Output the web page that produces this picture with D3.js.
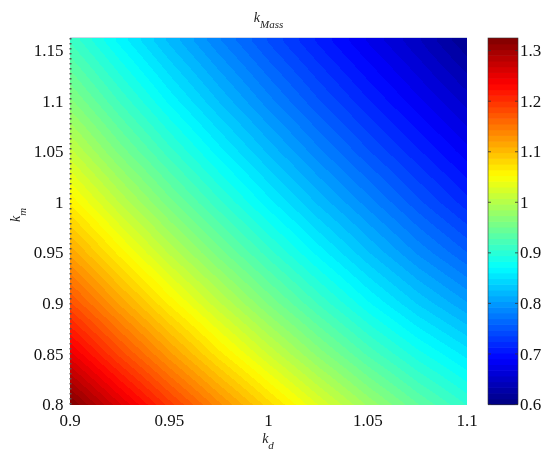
<!DOCTYPE html>
<html><head><meta charset="utf-8">
<script src="https://cdn.jsdelivr.net/npm/d3@7"></script>
<style>
html,body{margin:0;padding:0;background:#fff;}
#wrap{position:relative;width:550px;height:458px;overflow:hidden;}
canvas,svg{position:absolute;left:0;top:0;}
</style></head><body>
<div id="wrap"><canvas id="cv" width="550" height="458"></canvas><svg id="sv" width="550" height="458"></svg></div>
<script>
// k_d grid (x), k_m grid (y)
const kdValues = [0.9, 0.925, 0.95, 0.975, 1.0, 1.025, 1.05, 1.075, 1.1];
const kmValues = [0.8, 0.85, 0.9, 0.95, 1.0, 1.05, 1.1, 1.15, 1.16];
// k_Mass, one row per k_m value
const kMassRow080 = [1.326, 1.259, 1.195, 1.136, 1.081, 1.030, 0.983, 0.941, 0.905];
const kMassRow085 = [1.250, 1.185, 1.125, 1.069, 1.018, 0.970, 0.926, 0.888, 0.856];
const kMassRow090 = [1.180, 1.119, 1.062, 1.010, 0.961, 0.916, 0.874, 0.837, 0.805];
const kMassRow095 = [1.118, 1.060, 1.006, 0.957, 0.911, 0.868, 0.828, 0.791, 0.759];
const kMassRow100 = [1.062, 1.007, 0.956, 0.909, 0.865, 0.824, 0.787, 0.751, 0.718];
const kMassRow105 = [1.012, 0.959, 0.911, 0.866, 0.824, 0.785, 0.749, 0.716, 0.684];
const kMassRow110 = [0.966, 0.916, 0.869, 0.826, 0.786, 0.749, 0.715, 0.683, 0.652];
const kMassRow115 = [0.924, 0.876, 0.831, 0.790, 0.752, 0.717, 0.684, 0.653, 0.619];
const kMassRow116 = [0.916, 0.868, 0.824, 0.783, 0.746, 0.711, 0.678, 0.648, 0.612];
const kMassGrid = [kMassRow080, kMassRow085, kMassRow090, kMassRow095, kMassRow100,
                   kMassRow105, kMassRow110, kMassRow115, kMassRow116];

const xTicks = [0.9, 0.95, 1, 1.05, 1.1];
const yTicks = [0.8, 0.85, 0.9, 0.95, 1, 1.05, 1.1, 1.15];
const cTicks = [0.6, 0.7, 0.8, 0.9, 1, 1.1, 1.2, 1.3];
const xDomain = [0.9, 1.1];
const yDomain = [0.8, 1.1625];
const cDomain = [0.6, 1.325];
const nLevels = 64;
const jetPos = [0, 0.125, 0.375, 0.625, 0.875, 1];
const jetColors = ["#00007f", "#0000ff", "#00ffff", "#ffff00", "#ff0000", "#7f0000"];

const plot = {left: 70, right: 467, top: 38, bottom: 404.5};
const cbar = {left: 488, right: 518};

const x = d3.scaleLinear().domain(xDomain).range([plot.left, plot.right]);
const y = d3.scaleLinear().domain(yDomain).range([plot.bottom, plot.top]);
const cy = d3.scaleLinear().domain(cDomain).range([plot.bottom, plot.top]);
const jet = d3.scaleLinear()
  .domain(jetPos.map(t => cDomain[0] + t * (cDomain[1] - cDomain[0])))
  .range(jetColors).interpolate(d3.interpolateRgb).clamp(true);
const levelOf = v => Math.max(0, Math.min(nLevels - 1,
  Math.floor((v - cDomain[0]) / (cDomain[1] - cDomain[0]) * nLevels)));
const levelColor = l => jet(cDomain[0] + (l + 0.5) / nLevels * (cDomain[1] - cDomain[0]));
const levelRGB = d3.range(nLevels).map(l => d3.rgb(levelColor(l)));

function locate(arr, v) {
  let i = d3.bisectRight(arr, v) - 1;
  i = Math.max(0, Math.min(arr.length - 2, i));
  let t = (v - arr[i]) / (arr[i + 1] - arr[i]);
  t = Math.max(0, Math.min(1, t));
  return [i, t];
}
function field(kd, km) {
  const [i, tx] = locate(kdValues, kd);
  const [j, ty] = locate(kmValues, km);
  const a = kMassGrid[j][i], b = kMassGrid[j][i + 1];
  const c = kMassGrid[j + 1][i], d = kMassGrid[j + 1][i + 1];
  return (a * (1 - tx) + b * tx) * (1 - ty) + (c * (1 - tx) + d * tx) * ty;
}

// draw filled field on canvas
const cv = document.getElementById("cv");
const ctx = cv.getContext("2d");
const x0 = Math.round(plot.left), x1 = Math.round(plot.right);
const y0 = Math.round(plot.top), y1 = Math.round(plot.bottom);
const W = x1 - x0, H = y1 - y0;
const img = ctx.createImageData(W, H);
for (let j = 0; j < H; j++) {
  const km = y.invert(y0 + j + 0.5);
  for (let i = 0; i < W; i++) {
    const kd = x.invert(x0 + i + 0.5);
    const c = levelRGB[levelOf(field(kd, km))];
    const k = (j * W + i) * 4;
    img.data[k] = c.r; img.data[k + 1] = c.g; img.data[k + 2] = c.b; img.data[k + 3] = 255;
  }
}
ctx.putImageData(img, x0, y0);

const svg = d3.select("#sv");
const font = "'Liberation Serif', 'Times New Roman', serif";

// faint top border
svg.append("line").attr("x1", plot.left).attr("x2", plot.right)
  .attr("y1", plot.top - 0.5).attr("y2", plot.top - 0.5)
  .attr("stroke", "#cfd6e6").attr("stroke-width", 1);
// dotted left axis
svg.append("line").attr("x1", plot.left + 0.5).attr("x2", plot.left + 0.5)
  .attr("y1", plot.top).attr("y2", plot.bottom)
  .attr("stroke", "#555").attr("stroke-width", 2).attr("stroke-dasharray", "1.5,3.5");

// x tick labels
svg.append("g").selectAll("text").data(xTicks).join("text")
  .attr("x", d => x(d)).attr("y", 426).attr("text-anchor", "middle")
  .attr("font-family", font).attr("font-size", 17).attr("fill", "#111")
  .text(d => d3.format("")(d));
// y tick labels
svg.append("g").selectAll("text").data(yTicks).join("text")
  .attr("x", 63.5).attr("y", d => y(d)).attr("dy", "0.33em").attr("text-anchor", "end")
  .attr("font-family", font).attr("font-size", 17).attr("fill", "#111")
  .text(d => d3.format("")(d));

// title
const title = svg.append("text").attr("x", (plot.left + plot.right) / 2).attr("y", 22)
  .attr("text-anchor", "middle").attr("font-family", font).attr("font-style", "italic").attr("fill", "#222");
title.append("tspan").attr("font-size", 14).text("k");
title.append("tspan").attr("font-size", 11).attr("dy", 6).text("Mass");

// x label
const xl = svg.append("text").attr("x", 268).attr("y", 443)
  .attr("text-anchor", "middle").attr("font-family", font).attr("font-style", "italic").attr("fill", "#222");
xl.append("tspan").attr("font-size", 14).text("k");
xl.append("tspan").attr("font-size", 11).attr("dy", 6).text("d");

// y label
const yl = svg.append("text").attr("transform", "translate(20,215) rotate(-90)")
  .attr("text-anchor", "middle").attr("font-family", font).attr("font-style", "italic").attr("fill", "#222");
yl.append("tspan").attr("font-size", 14).text("k");
yl.append("tspan").attr("font-size", 11).attr("dy", 6).text("m");

// colorbar
const cb = svg.append("g");
cb.selectAll("rect").data(d3.range(nLevels)).join("rect")
  .attr("x", cbar.left)
  .attr("width", cbar.right - cbar.left)
  .attr("y", l => cy(cDomain[0] + (l + 1) / nLevels * (cDomain[1] - cDomain[0])))
  .attr("height", l => cy(cDomain[0] + l / nLevels * (cDomain[1] - cDomain[0])) -
                        cy(cDomain[0] + (l + 1) / nLevels * (cDomain[1] - cDomain[0])) + 0.6)
  .attr("fill", l => levelColor(l));
cb.append("rect").attr("x", cbar.left).attr("y", plot.top)
  .attr("width", cbar.right - cbar.left).attr("height", plot.bottom - plot.top)
  .attr("fill", "none").attr("stroke", "#333").attr("stroke-width", 0.6);
cb.selectAll("line.tl").data(cTicks).join("line").attr("class", "tl")
  .attr("x1", cbar.left).attr("x2", cbar.left + 3).attr("y1", d => cy(d)).attr("y2", d => cy(d))
  .attr("stroke", "#333").attr("stroke-width", 0.8);
cb.selectAll("line.tr").data(cTicks).join("line").attr("class", "tr")
  .attr("x1", cbar.right - 3).attr("x2", cbar.right).attr("y1", d => cy(d)).attr("y2", d => cy(d))
  .attr("stroke", "#333").attr("stroke-width", 0.8);
cb.selectAll("text").data(cTicks).join("text")
  .attr("x", cbar.right + 2).attr("y", d => cy(d)).attr("dy", "0.33em")
  .attr("font-family", font).attr("font-size", 17).attr("fill", "#111")
  .text(d => d3.format("")(d));
</script>
</body></html>
